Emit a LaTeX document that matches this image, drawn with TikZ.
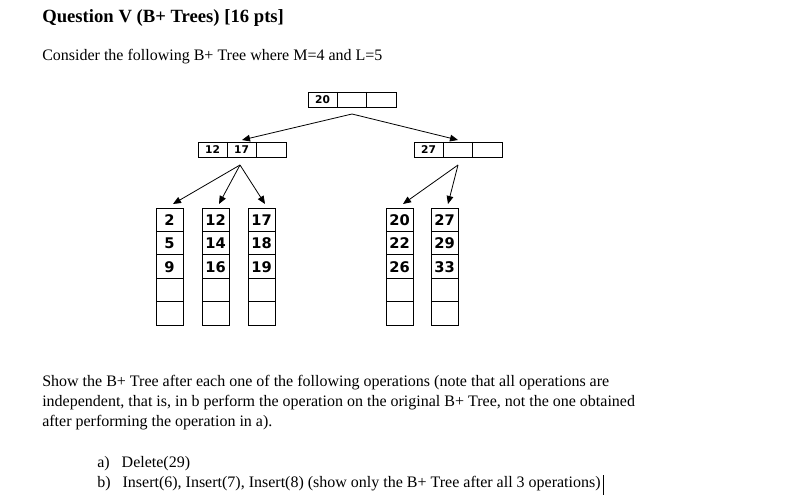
\documentclass[tikz,border=0pt]{standalone}
\usepackage{fontspec}
\setmainfont{Liberation Serif}
\newfontfamily\numfont{DejaVu Sans}
\usetikzlibrary{arrows.meta}
\begin{document}
\begin{tikzpicture}[x=0.75pt,y=-0.75pt,
  txt/.style={anchor=base west,inner sep=0pt,font=\fontsize{12}{14}\selectfont},
  cell/.style={draw,line width=0.7pt},
  inum/.style={font=\numfont\bfseries\fontsize{8}{9}\selectfont,inner sep=0pt},
  lnum/.style={font=\numfont\bfseries\fontsize{11}{12}\selectfont,inner sep=0pt},
  arr/.style={-{Triangle[length=6pt,width=5pt]},line width=0.6pt}]
\useasboundingbox (0,0) rectangle (791,502);
\node[txt,font=\bfseries\fontsize{14}{16}\selectfont] (title) at (42,23) {Question V (B+ Trees) [16 pts]};
\node[txt] (intro) at (42,61) {Consider the following B+ Tree where M=4 and L=5};
% internal nodes
\foreach \nm/\x/\y/\a/\b in {root/308/92/20/, li/198/142/12/17, ri/414/142/27/}{
  \draw[cell] (\x,\y) rectangle ++(88,15);
  \draw[cell] (\x+29,\y) -- ++(0,15) (\x+58,\y) -- ++(0,15);
  \node[inum] (\nm) at (\x+14.5,\y+8) {\a};
  \node[inum] at (\x+43.5,\y+8) {\b};
}
\coordinate (rootb) at (352,114);
\coordinate (lit) at (242,140);
\coordinate (rit) at (458,140);
\coordinate (lib) at (240,165);
\coordinate (rib) at (458,165);
% leaves
\foreach \nm/\x/\a/\b/\c in {la/156/2/5/9, lb/202/12/14/16, lc/248/17/18/19, ld/386/20/22/26, le/431/27/29/33}{
  \draw[cell] (\x,208) rectangle ++(27,117);
  \foreach \k in {1,2,3,4} \draw[cell] (\x,208+23.4*\k) -- ++(27,0);
  \node[lnum] (\nm) at (\x+13.5,220) {\a};
  \node[lnum] at (\x+13.5,243.5) {\b};
  \node[lnum] at (\x+13.5,267) {\c};
  \coordinate (\nm t) at (\x+17,204);
}
\draw[arr] (rootb) -- (lit);
\draw[arr] (rootb) -- (rit);
\draw[arr] (lib) -- (lat);
\draw[arr] (lib) -- (lbt);
\draw[arr] (lib) -- (lct);
\draw[arr] (rib) -- (ldt);
\draw[arr] (rib) -- (let);
\node[txt] (p1) at (42,386) {Show the B+ Tree after each one of the following operations (note that all operations are};
\node[txt] (p2) at (42,406) {independent, that is, in b perform the operation on the original B+ Tree, not the one obtained};
\node[txt] (p3) at (42,426) {after performing the operation in a).};
\node[txt] (qa) at (97,467) {a)\hspace{9pt}Delete(29)};
\node[txt] (qb) at (97,487) {b)\hspace{9pt}Insert(6), Insert(7), Insert(8) (show only the B+ Tree after all 3 operations)};
\draw[line width=0.8pt] (qb.east) ++(3,-8) -- ++(0,20);
\end{tikzpicture}
\end{document}
